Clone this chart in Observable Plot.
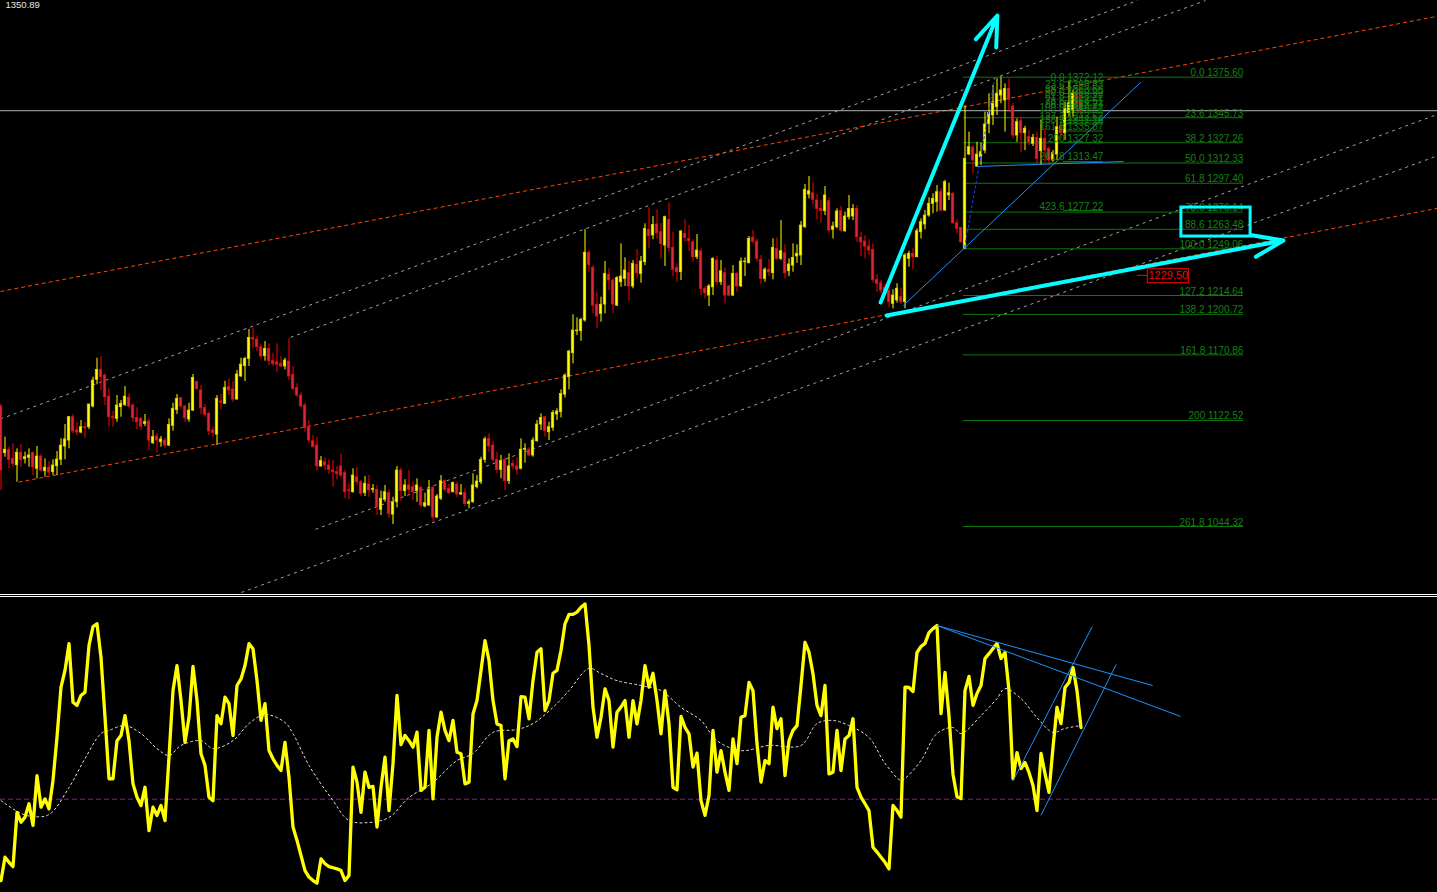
<!DOCTYPE html>
<html><head><meta charset="utf-8">
<script src="https://cdn.jsdelivr.net/npm/d3@7"></script>
<script src="https://cdn.jsdelivr.net/npm/@observablehq/plot@0.6"></script>
<style>
html,body{margin:0;padding:0;background:#000;overflow:hidden;}
#wrap{position:relative;width:1437px;height:892px;background:#000;}
#main{position:absolute;left:0;top:0;}
#osc{position:absolute;left:0;top:597px;}
.sep{position:absolute;left:0;width:1437px;height:1px;background:#fff;}
</style></head><body>
<div id="wrap"><div id="main"></div><div class="sep" style="top:594px"></div><div class="sep" style="top:596px"></div><div id="osc"></div></div>
<script>
// ---- candle data (bar index 0..270) ----
const opens = [1132.8,1098.4,1100.9,1094.2,1089.5,1098.7,1094.0,1095.0,1098.4,1086.9,1095.9,1085.1,1087.7,1084.4,1088.8,1093.5,1103.3,1107.7,1124.9,1115.1,1113.6,1117.5,1117.5,1132.8,1152.5,1159.8,1155.6,1140.1,1124.9,1123.7,1132.3,1134.0,1139.2,1133.5,1124.4,1123.7,1120.0,1121.7,1105.7,1110.7,1106.5,1107.7,1104.0,1118.6,1130.3,1138.9,1132.8,1123.2,1129.8,1151.0,1144.6,1131.8,1127.4,1115.1,1112.1,1136.5,1134.8,1147.0,1145.3,1137.9,1154.9,1162.5,1167.9,1183.4,1182.2,1176.5,1169.9,1175.3,1166.2,1165.4,1164.3,1162.3,1165.9,1156.1,1146.3,1140.9,1133.5,1117.5,1107.2,1104.0,1088.6,1091.7,1089.3,1085.6,1084.4,1088.6,1083.6,1070.9,1069.6,1080.7,1077.0,1068.9,1075.3,1071.4,1071.4,1056.6,1064.0,1068.9,1053.1,1062.2,1085.6,1070.4,1074.6,1073.3,1070.4,1072.9,1059.1,1059.8,1072.9,1051.0,1064.8,1077.7,1072.1,1069.6,1075.3,1067.9,1068.9,1061.0,1062.2,1073.3,1077.0,1093.5,1109.0,1104.0,1093.5,1086.1,1093.5,1077.7,1090.5,1088.6,1086.9,1100.9,1100.9,1096.7,1107.2,1119.5,1124.9,1113.8,1117.1,1126.9,1128.6,1141.6,1154.4,1172.1,1188.3,1188.3,1196.2,1246.1,1235.0,1207.8,1201.1,1208.0,1229.9,1225.7,1207.2,1224.4,1226.9,1231.1,1221.3,1237.3,1230.6,1239.2,1263.1,1258.9,1267.0,1261.3,1251.5,1270.4,1249.8,1235.0,1231.8,1260.1,1256.4,1253.9,1242.9,1247.1,1219.6,1214.6,1220.7,1240.4,1224.4,1231.1,1221.3,1214.6,1230.6,1221.3,1239.2,1238.4,1257.2,1254.4,1240.9,1226.9,1233.6,1231.1,1249.1,1241.7,1245.8,1232.5,1236.7,1243.4,1244.1,1265.0,1289.1,1290.0,1284.7,1278.5,1276.8,1284.2,1263.1,1265.0,1276.8,1262.0,1272.4,1272.9,1278.5,1257.2,1254.4,1250.7,1248.3,1226.2,1223.7,1220.3,1218.3,1208.5,1211.0,1213.4,1209.7,1241.7,1245.4,1242.9,1261.3,1267.0,1273.6,1282.2,1283.4,1290.8,1277.3,1288.4,1289.6,1267.9,1264.5,1249.1,1318.6,1323.6,1309.7,1316.6,1321.5,1341.2,1347.4,1353.5,1362.1,1358.4,1367.0,1354.0,1332.6,1343.1,1334.3,1331.4,1326.5,1330.9,1321.0,1330.2,1322.8,1314.2,1318.6,1339.3,1334.3,1349.1,1351.6,1363.4,1357.9];
const highs = [1134.3,1110.2,1102.8,1105.3,1101.6,1104.8,1099.1,1101.6,1099.1,1103.3,1097.2,1094.2,1092.2,1093.5,1099.6,1109.0,1119.5,1125.4,1126.7,1121.0,1122.5,1121.0,1134.3,1154.4,1168.4,1169.6,1156.9,1145.8,1129.1,1140.9,1137.2,1147.5,1142.1,1134.8,1131.8,1124.9,1126.9,1123.7,1115.1,1113.1,1110.7,1109.4,1123.7,1135.2,1141.6,1139.6,1133.5,1135.2,1156.4,1151.2,1148.3,1134.3,1128.4,1117.5,1140.9,1141.6,1151.4,1153.2,1151.2,1159.3,1168.4,1169.1,1189.5,1190.8,1184.7,1178.3,1180.7,1179.0,1172.1,1179.0,1169.6,1168.4,1182.7,1162.3,1149.5,1142.9,1135.2,1122.5,1111.4,1110.2,1095.9,1095.0,1093.5,1093.0,1088.6,1097.9,1085.6,1075.8,1086.9,1088.0,1078.2,1081.2,1081.9,1075.3,1074.6,1070.4,1074.6,1071.4,1065.9,1088.6,1087.3,1078.8,1085.6,1077.0,1079.5,1073.8,1068.9,1078.2,1073.8,1067.9,1081.9,1078.8,1075.3,1077.0,1077.0,1075.3,1072.1,1064.0,1083.2,1081.9,1095.4,1110.2,1112.7,1107.2,1099.1,1096.7,1095.0,1097.9,1093.0,1095.0,1109.0,1105.3,1102.3,1109.7,1122.5,1127.4,1125.4,1121.2,1129.8,1131.1,1145.1,1156.9,1174.1,1200.4,1198.2,1197.9,1263.1,1247.8,1236.7,1217.1,1213.4,1239.7,1234.3,1226.9,1228.6,1252.7,1242.4,1239.7,1240.4,1248.5,1243.4,1267.5,1279.3,1272.9,1277.8,1267.9,1273.1,1283.0,1261.3,1238.0,1262.5,1270.4,1266.2,1255.7,1259.6,1249.1,1221.3,1222.7,1242.4,1243.4,1240.4,1235.0,1222.0,1236.7,1231.8,1242.4,1242.4,1258.1,1262.5,1256.4,1244.1,1235.0,1241.2,1256.4,1257.2,1269.9,1252.0,1241.7,1252.7,1252.0,1269.2,1296.5,1302.4,1298.0,1289.1,1284.7,1295.0,1286.7,1268.7,1278.5,1280.2,1276.1,1288.4,1281.7,1281.0,1261.3,1258.9,1255.7,1252.7,1230.1,1225.7,1222.7,1223.3,1218.8,1223.3,1220.0,1245.4,1247.3,1249.1,1263.8,1271.2,1277.3,1286.7,1289.6,1295.7,1293.3,1299.5,1297.5,1290.8,1270.4,1265.0,1354.7,1335.1,1325.2,1327.6,1326.9,1349.8,1363.4,1369.5,1374.4,1375.6,1370.7,1374.4,1356.4,1344.9,1346.1,1339.3,1336.3,1333.4,1335.1,1343.7,1337.6,1324.0,1321.5,1346.1,1342.4,1357.2,1372.12,1365.8,1365.8,1365.8];
const lows = [1070.9,1095.4,1086.9,1088.0,1077.0,1088.0,1090.5,1088.0,1081.9,1079.5,1084.4,1080.7,1081.9,1081.9,1081.9,1089.3,1093.5,1101.6,1112.7,1111.4,1112.7,1109.4,1115.8,1131.8,1148.8,1144.6,1133.5,1117.5,1117.5,1121.2,1124.9,1132.8,1131.1,1121.2,1115.6,1115.1,1118.0,1100.4,1104.8,1098.4,1102.8,1102.0,1103.3,1114.6,1126.9,1131.1,1121.2,1121.2,1129.1,1144.6,1126.7,1124.9,1111.4,1110.2,1104.0,1130.3,1134.3,1140.9,1135.7,1137.7,1154.4,1151.2,1162.3,1175.3,1173.3,1167.2,1166.2,1163.0,1162.3,1158.1,1161.8,1159.8,1151.9,1144.6,1139.6,1131.8,1113.8,1105.7,1102.3,1085.1,1088.0,1085.6,1082.7,1073.3,1078.8,1080.4,1064.8,1064.2,1068.9,1074.6,1066.4,1066.4,1065.9,1068.9,1052.4,1052.4,1062.2,1050.4,1045.8,1058.1,1063.0,1066.4,1067.2,1063.5,1062.2,1058.1,1058.1,1059.1,1047.7,1050.2,1063.5,1069.6,1067.9,1069.1,1065.5,1067.2,1059.1,1057.4,1061.5,1072.1,1075.3,1091.0,1099.1,1091.7,1083.2,1079.5,1070.9,1075.3,1086.1,1081.9,1086.1,1091.0,1095.9,1095.4,1106.5,1115.1,1110.2,1107.7,1114.6,1122.5,1124.4,1139.2,1145.1,1164.3,1185.1,1180.9,1195.0,1231.8,1201.1,1190.5,1195.0,1201.1,1218.3,1201.1,1206.5,1220.7,1221.3,1210.4,1219.6,1226.9,1223.7,1236.7,1249.1,1255.7,1256.4,1241.7,1236.0,1246.5,1228.6,1224.4,1225.7,1253.9,1247.3,1239.2,1241.2,1214.6,1212.2,1206.5,1214.6,1222.0,1222.0,1208.5,1213.9,1213.9,1217.1,1220.7,1228.6,1238.0,1252.7,1239.2,1222.7,1224.4,1228.6,1226.2,1240.4,1240.4,1226.9,1228.6,1231.8,1238.4,1236.7,1264.2,1285.9,1281.7,1270.4,1267.9,1273.6,1260.6,1256.4,1263.8,1261.3,1261.3,1270.4,1269.9,1253.9,1243.4,1241.7,1244.1,1223.7,1217.1,1215.9,1214.6,1205.6,1204.8,1209.0,1208.0,1204.8,1235.5,1233.6,1242.4,1256.4,1263.1,1272.4,1274.9,1276.1,1276.1,1276.8,1284.7,1267.0,1260.1,1253.2,1249.06,1317.9,1304.4,1309.3,1310.5,1319.1,1333.9,1340.0,1347.4,1356.0,1335.1,1349.8,1330.2,1327.6,1320.3,1321.5,1325.2,1324.5,1311.7,1310.5,1312.9,1311.2,1312.9,1314.2,1330.2,1328.9,1346.1,1346.1,1351.1,1348.6];
const closes = [1085.6,1100.9,1093.5,1090.5,1098.7,1093.5,1095.4,1096.7,1088.0,1095.9,1085.6,1087.7,1084.1,1089.3,1093.7,1104.0,1108.5,1124.9,1114.4,1113.6,1117.5,1116.8,1134.3,1151.9,1159.8,1154.4,1139.6,1124.9,1124.2,1133.5,1134.8,1140.1,1132.8,1124.2,1121.2,1118.0,1121.2,1107.7,1110.2,1107.7,1108.5,1104.0,1119.3,1131.1,1138.5,1132.8,1124.4,1129.8,1153.9,1145.8,1131.5,1126.7,1114.4,1113.4,1138.5,1135.7,1146.6,1144.6,1137.9,1156.4,1163.7,1167.9,1183.4,1182.2,1176.5,1169.6,1175.3,1166.2,1164.3,1163.7,1162.3,1166.7,1154.9,1145.8,1140.9,1132.8,1117.1,1107.7,1102.8,1088.6,1092.5,1089.3,1086.1,1084.4,1083.2,1081.9,1069.6,1070.4,1081.9,1077.0,1068.4,1075.8,1070.9,1072.1,1058.6,1064.8,1069.6,1053.6,1062.2,1085.6,1070.4,1074.6,1071.4,1069.6,1074.6,1059.8,1061.5,1071.4,1051.0,1066.4,1077.7,1071.4,1068.9,1076.5,1067.9,1068.9,1060.8,1062.2,1074.6,1077.5,1093.5,1108.5,1103.3,1093.5,1086.1,1092.5,1077.7,1088.6,1088.6,1086.1,1100.9,1101.6,1096.7,1107.7,1119.5,1124.4,1114.6,1117.5,1128.1,1129.1,1142.1,1155.6,1173.3,1188.8,1188.8,1196.7,1246.2,1237.1,1207.2,1199.1,1207.8,1230.6,1225.7,1208.0,1227.4,1228.6,1233.1,1221.3,1238.0,1231.1,1239.7,1263.8,1258.3,1266.7,1260.6,1252.7,1272.4,1249.8,1233.6,1231.8,1261.8,1257.2,1254.7,1242.9,1247.8,1219.6,1216.3,1221.3,1241.7,1224.4,1232.5,1214.6,1214.6,1230.6,1221.3,1239.7,1239.7,1256.4,1254.4,1241.7,1226.9,1233.6,1231.8,1249.8,1241.7,1247.3,1231.1,1237.5,1242.4,1245.4,1266.2,1292.6,1291.5,1285.2,1278.5,1276.8,1288.4,1262.5,1265.5,1276.6,1262.5,1272.9,1278.5,1278.5,1257.6,1253.9,1250.7,1247.8,1226.2,1223.3,1218.3,1215.9,1209.7,1214.6,1219.6,1209.7,1244.1,1245.4,1242.9,1262.0,1268.7,1273.6,1282.2,1285.9,1290.8,1277.3,1298.2,1290.0,1267.9,1263.8,1253.9,1315.4,1324.0,1314.2,1318.6,1320.3,1340.7,1349.1,1356.0,1363.4,1365.8,1367.0,1358.9,1332.6,1342.4,1334.3,1337.6,1327.6,1330.9,1315.4,1330.2,1321.5,1314.2,1319.6,1338.7,1334.3,1352.3,1356.4,1363.4,1356.4,1350.89];

// ---- oscillator (0..100) per bar, and its moving-average signal ----
const osc = [1.4,9.6,7.8,6.3,25.4,21.9,23.7,28.4,20.8,38.3,27.2,30.1,26.6,36.6,51.8,69.4,75.3,84.7,64.1,63.0,66.5,67.6,84.1,90.7,91.7,79.9,58.8,37.2,37.2,50.6,52.4,59.4,50.6,35.4,30.7,27.8,34.2,19.0,27.2,24.3,27.8,22.5,44.8,68.2,77.0,64.7,50.0,58.8,76.7,64.7,46.0,41.9,30.7,29.5,59.4,56.5,65.9,63.6,52.4,70.0,72.3,77.0,84.7,82.9,71.7,57.7,63.6,47.1,44.2,41.9,40.1,50.0,37.7,20.2,15.5,10.2,4.9,2.6,1.4,0.5,9.0,7.3,6.3,5.9,5.5,4.9,1.4,3.2,41.3,36.0,25.4,39.5,34.2,34.5,20.2,34.2,44.8,26.0,42.5,66.5,49.2,52.4,50.6,48.3,53.6,33.1,34.2,54.2,30.1,51.8,60.6,54.2,50.6,57.7,46.5,46.0,35.4,36.0,60.0,64.7,75.3,85.8,78.8,64.7,56.5,55.9,37.2,50.6,51.2,48.5,66.1,65.9,58.3,71.7,81.7,82.9,61.2,64.7,74.3,75.3,82.3,91.7,95.0,95.0,95.8,97.5,98.7,84.1,62.4,51.8,58.8,68.8,64.7,48.3,60.6,62.4,64.7,51.8,64.7,56.5,64.7,77.0,69.4,74.3,64.7,53.0,68.2,56.5,34.2,33.3,59.1,55.3,53.0,41.3,46.2,29.5,24.3,31.3,54.2,39.5,47.1,39.5,33.1,51.2,42.5,58.8,59.4,71.1,68.2,49.5,36.0,43.6,42.5,62.4,54.8,58.3,38.3,50.6,54.2,55.9,70.0,85.2,81.7,74.1,63.0,59.4,70.0,38.9,39.5,54.2,40.1,51.2,52.4,58.3,34.2,30.7,28.4,26.0,13.1,11.4,9.6,7.8,5.5,27.8,26.0,23.7,69.4,69.3,67.9,81.6,83.7,84.8,88.6,90.0,91.1,60.1,74.6,59.4,38.7,30.9,30.2,68.2,73.2,63.0,67.2,70.0,79.5,81.2,83.0,84.8,79.5,81.6,68.2,37.3,46.4,40.8,42.9,39.4,34.8,26.0,46.1,39.0,32.4,48.2,62.3,56.6,69.3,71.0,76.3,68.2,55.2];
const maIdx = [0,5,8,12,17,21,25,27,31,35,39,42,45,50,53,58,62,66,71,73,77,83,87,92,97,102,108,114,118,123,129,133,138,142,147,150,154,160,165,170,175,179,185,192,200,204,208,212,217,221,225,226,230,234,238,240,245,249,251,255,259,263,266,270];
const maVal = [29.5,25.0,23.9,24.6,34.1,44.3,53.1,54.2,55.9,53.1,47.8,45.4,48.9,50.6,47.8,50.6,56.6,59.8,57.0,53.1,41.9,29.5,22.5,21.8,23.6,30.6,35.9,43.6,46.1,53.5,54.5,56.6,62.3,68.2,76.0,74.2,71.7,70.0,68.2,62.3,57.7,50.6,47.1,48.9,48.9,56.6,57.7,55.9,51.7,42.6,36.6,37.3,43.6,53.1,55.2,53.1,59.4,65.4,68.9,65.4,58.7,53.5,54.9,55.9];
const oscLevel = 30;

// ---- Fibonacci objects ----
const fibLevels = ["0.0","23.6","38.2","50.0","61.8","78.6","88.6","100.0","127.2","138.2","161.8","200","261.8"];
const fibPrices = [1375.60,1345.73,1327.26,1312.33,1297.40,1276.14,1263.48,1249.06,1214.64,1200.72,1170.86,1122.52,1044.32];
const fib2Levels = ["0.0","23.6","38.2","50.0","61.8","78.6","88.6","100.0","127.2","138.2","161.8","200","261.8","423.6"];
const fib2Prices = [1372.12,1366.83,1363.56,1360.92,1358.27,1354.51,1352.27,1349.72,1343.62,1341.16,1335.87,1327.32,1313.47,1277.22];
const fibSpan1 = [240.6, 310.6];
const fibSpan2 = [265.6, 275.6];

// ---- other chart objects (bar index, price) ----
const bid = 1350.89;
const hLabelPrice = 1229.50;
const hLabelBox = [286.7, 296.95, 1223.7, 1234.3];
const hLabelTick = [284.1, 286.7];
const grayChannels = [[-0.125,1123.6,284.1,1432.1],[72.4,1183.8,301.1,1432.1],[78.6,1042.2,359.1,1348.2],[60.1,995.7,359.1,1317.6]];
const redChannels = [[-0.125,1217.6,359.1,1420.5],[4.4,1077.0,359.1,1278.9]];
const blueLines = [[225.6,1207.3,284.9,1371.7],[244.1,1309.8,280.6,1313.4]];
const zigzag = [[240.9,1250.0,248.4,1374.6]];
const arrowsTop = [[219.9,1209.5,249.1,1421.1],[221.4,1199.9,320.6,1255.2]];
const cyanBox = [[295.1,312.4,1258.1,1279.5]];
const oscLines = [[234.0,91.1,287.9,70.0],[234.0,91.1,294.9,59.1],[252.95,36.3,272.8,90.7],[259.97,24.3,278.8,77.4]];

const seg = a => a.map(r => ({x1:r[0], y1:r[1], x2:r[2], y2:r[3]}));
const candles = opens.map((o,i) => ({i, o, h: highs[i], l: lows[i], c: closes[i]}));
const bull = candles.filter(d => d.c >= d.o);
const bear = candles.filter(d => d.c < d.o);
const fib1 = fibLevels.map((l,k) => ({lvl:l, p:fibPrices[k]}));
const fib2 = fib2Levels.map((l,k) => ({lvl:l, p:fib2Prices[k]}));
const FONT = "Liberation Sans, Arial, sans-serif";
const xDomain = [-0.125, 359.125];
const fibGreen = "#0a7a0a", fibText = "#168016";

const bodyMark = (data, fill, stroke) => Plot.rect(data, {
  x1: d => d.i - 0.3, x2: d => d.i + 0.3,
  y1: d => Math.min(d.o, d.c), y2: d => Math.max(d.o, d.c),
  fill, stroke, strokeWidth: 0.8
});

const main = Plot.plot({
  width: 1437, height: 594, margin: 0,
  x: {domain: xDomain, axis: null},
  y: {domain: [994.19, 1432.15], axis: null},
  style: {background: "#000", color: "#fff", fontFamily: FONT},
  marks: [
    Plot.link(seg(grayChannels), {x1:"x1", y1:"y1", x2:"x2", y2:"y2", stroke:"#a0a0a0", strokeWidth:1, strokeDasharray:"3,4"}),
    Plot.link(seg(redChannels), {x1:"x1", y1:"y1", x2:"x2", y2:"y2", stroke:"#ff4500", strokeWidth:1, strokeDasharray:"4,3"}),
    Plot.ruleY([bid], {stroke:"#b4b4b4", strokeWidth:1}),
    Plot.ruleY(fib1, {y:"p", x1: () => fibSpan1[0], x2: () => fibSpan1[1], stroke: fibGreen, strokeWidth:1}),
    Plot.ruleY(fib2, {y:"p", x1: () => fibSpan2[0], x2: () => fibSpan2[1], stroke: fibGreen, strokeWidth:1}),
    Plot.ruleX(bull, {x:"i", y1:"l", y2:"h", stroke:"#ffff00", strokeWidth:1}),
    Plot.ruleX(bear, {x:"i", y1:"l", y2:"h", stroke:"#ff0000", strokeWidth:1}),
    bodyMark(bull, "#ffff00", "#e0cc00"),
    bodyMark(bear, "#d8283a", "#ff0000"),
    Plot.link(seg(blueLines), {x1:"x1", y1:"y1", x2:"x2", y2:"y2", stroke:"#1e90ff", strokeWidth:1}),
    Plot.link(seg(zigzag), {x1:"x1", y1:"y1", x2:"x2", y2:"y2", stroke:"#1e3cff", strokeWidth:1, strokeDasharray:"3,2"}),
    Plot.text(fib1, {x: () => fibSpan1[1], y:"p", text: d => d.lvl + " " + d.p.toFixed(2), textAnchor:"end", lineAnchor:"bottom", dy:-1, fill: fibText, fontSize:10, fontFamily: FONT}),
    Plot.text(fib2, {x: () => fibSpan2[1], y:"p", text: d => d.lvl + " " + d.p.toFixed(2), textAnchor:"end", lineAnchor:"bottom", dy:-1, fill: fibText, fontSize:10, fontFamily: FONT}),
    Plot.arrow(seg(arrowsTop), {x1:"x1", y1:"y1", x2:"x2", y2:"y2", stroke:"#00ffff", strokeWidth:4, headLength:12, headAngle:40}),
    Plot.rect(cyanBox, {x1: d => d[0], x2: d => d[1], y1: d => d[2], y2: d => d[3], fill:"none", stroke:"#00ffff", strokeWidth:3}),
    Plot.ruleY([hLabelPrice], {x1: () => hLabelTick[0], x2: () => hLabelTick[1], stroke:"#ff0000", strokeWidth:1}),
    Plot.rect([hLabelPrice], {x1: () => hLabelBox[0], x2: () => hLabelBox[1], y1: () => hLabelBox[2], y2: () => hLabelBox[3], fill:"#000", stroke:"#ff0000", strokeWidth:1}),
    Plot.text([hLabelPrice], {x: () => (hLabelBox[0] + hLabelBox[1]) / 2, y: d => d, text: d => d.toFixed(2), fill:"#ff0000", fontSize:11, fontFamily: FONT, textAnchor:"middle", lineAnchor:"middle"}),
    Plot.text([bid], {frameAnchor:"top-left", text: d => d.toFixed(2), dx:5, dy:1, fill:"#e6e6e6", fontSize:9.5, fontFamily: FONT, textAnchor:"start", lineAnchor:"top"})
  ]
});
document.getElementById("main").appendChild(main);

const oscData = osc.map((v,i) => ({i, v}));
const maData = maIdx.map((x,k) => ({i:x, v:maVal[k]}));
const lower = Plot.plot({
  width: 1437, height: 295, margin: 0,
  x: {domain: xDomain, axis: null},
  y: {domain: [0, 100], range: [287, 2.7], axis: null},
  style: {background: "#000", color: "#fff", fontFamily: FONT},
  marks: [
    Plot.ruleY([oscLevel], {stroke:"#8a1f8a", strokeWidth:1, strokeDasharray:"5,3"}),
    Plot.line(maData, {x:"i", y:"v", stroke:"#f3dfd6", strokeWidth:1, strokeDasharray:"2,3", curve:"catmull-rom"}),
    Plot.line(oscData, {x:"i", y:"v", stroke:"#ffff00", strokeWidth:3.3, strokeLinejoin:"round"}),
    Plot.link(seg(oscLines), {x1:"x1", y1:"y1", x2:"x2", y2:"y2", stroke:"#1e90ff", strokeWidth:1})
  ]
});
document.getElementById("osc").appendChild(lower);
</script></body></html>
